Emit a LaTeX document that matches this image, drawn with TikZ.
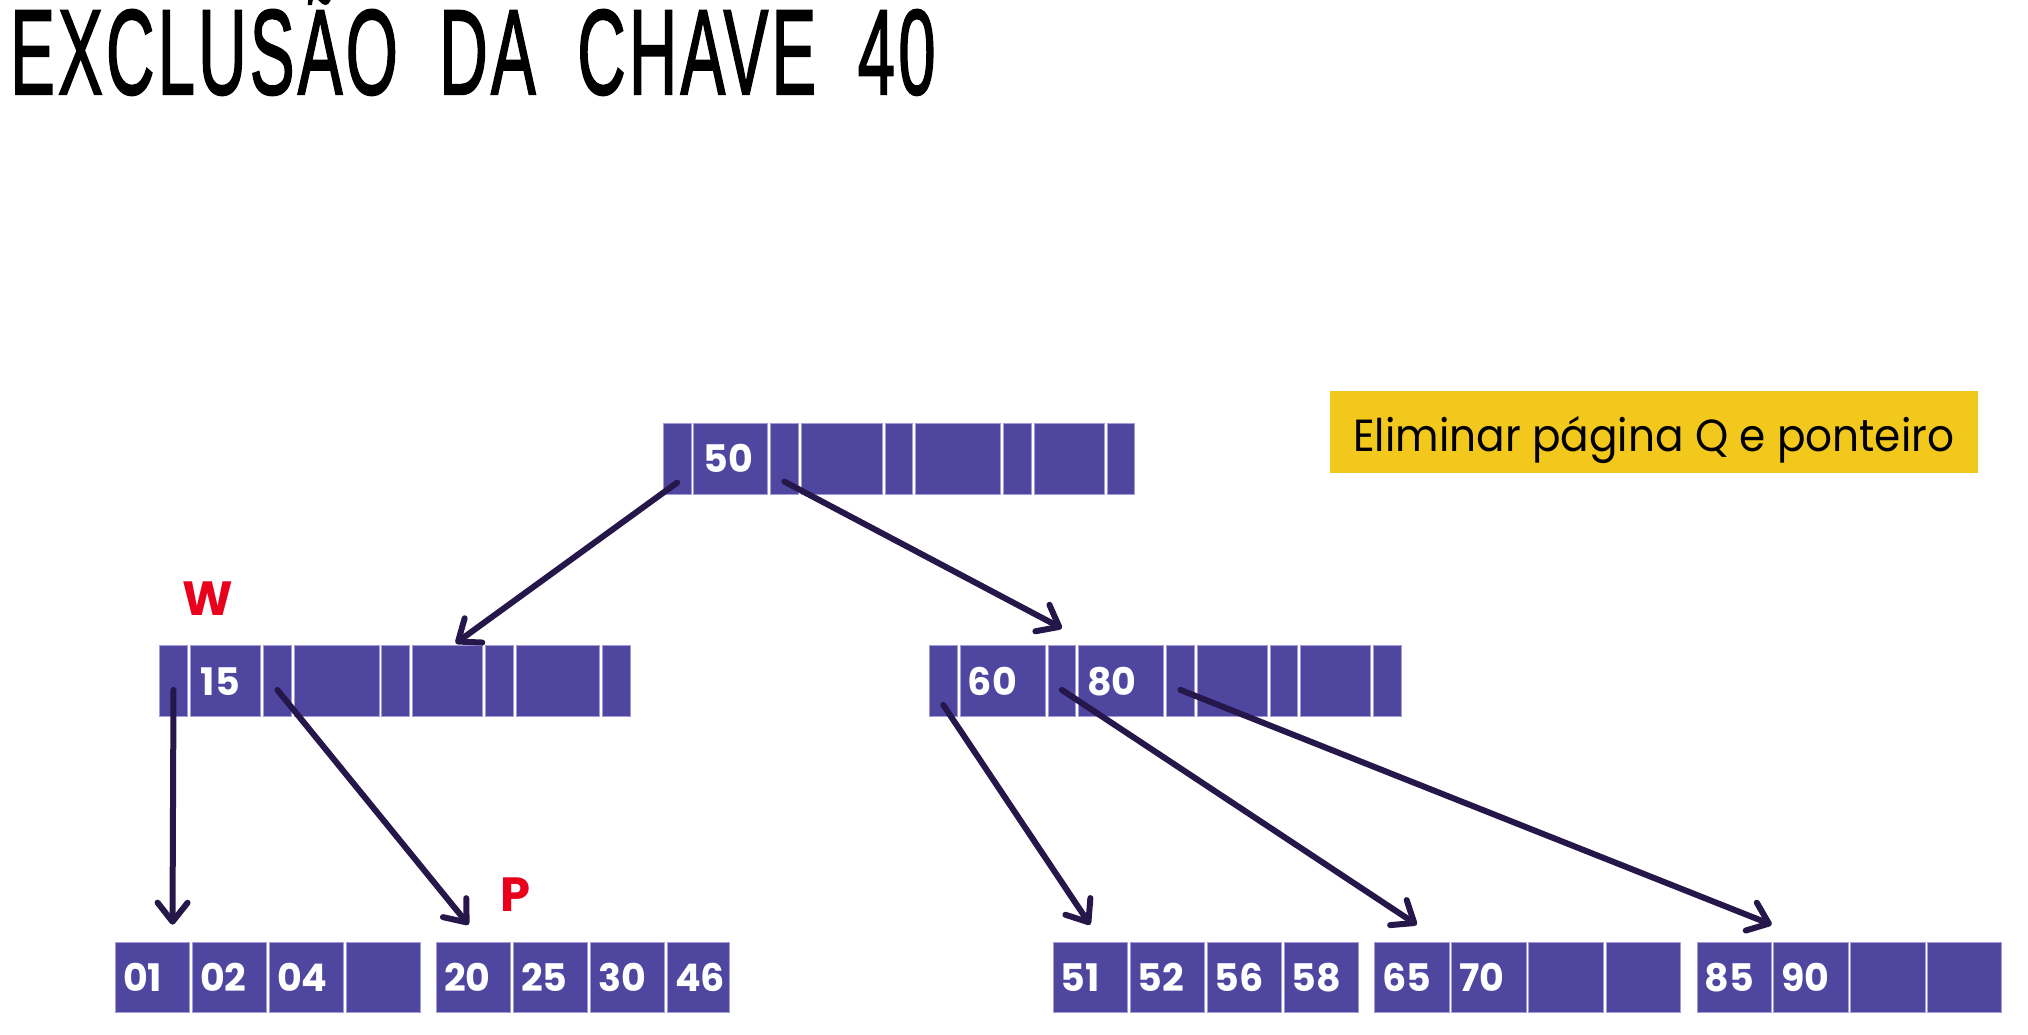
\documentclass[tikz,border=0pt]{standalone}
\usepackage{fontspec}
\usepackage{graphicx}
\setmainfont{Poppins}
\newfontfamily\titlefont[LetterSpace=5, WordSpace=1.9, FakeBold=2]{Liberation Sans}
\usetikzlibrary{arrows.meta,calc}

\definecolor{cellfill}{RGB}{79,70,160}
\definecolor{cellline}{RGB}{165,156,218}
\definecolor{linkcol}{RGB}{37,23,74}
\definecolor{markred}{RGB}{232,0,28}
\definecolor{notefill}{RGB}{242,200,28}

\begin{document}
\begin{tikzpicture}[x=1pt,y=-1pt,
  cell/.style={fill=cellfill, draw=cellline, line width=1pt, anchor=north west,
    inner sep=0pt, minimum height=70.6pt},
  key/.style={anchor=west, inner sep=0pt, text=white,
    font=\fontsize{38}{38}\selectfont\bfseries},
  link/.style={draw=linkcol, line width=6pt, line cap=round,
    -{Straight Barb[length=19pt,width=30pt,round]}},
  redmark/.style={inner sep=0pt, text=markred,
    font=\fontsize{48}{48}\selectfont\bfseries},
]
\clip (0,0) rectangle (2028,1034);
\fill[white] (0,0) rectangle (2028,1034);

% title
\node[anchor=base west, inner sep=0pt] (title) at (10,94)
  {\resizebox{925pt}{83pt}{\titlefont\raisebox{0pt}[\fontcharht\font`E][0pt]{EXCLUSÃO DA CHAVE 40}}};

% note box
\node[fill=notefill, anchor=north west, inner sep=0pt, minimum width=648pt,
  minimum height=82pt] (note) at (1329.6,390.7) {};
\node[inner sep=0pt, font=\fontsize{45}{45}\selectfont, anchor=base]
  (notetext) at ([yshift=-20pt]note.center)
  {\resizebox{601pt}{\height}{Eliminar página Q e ponteiro}};

% root page
\foreach \n/\x/\w in {r1/662.7/28, r2/693.3/74, r3/770/27.7, r4/800.7/81,
    r5/884.7/27.6, r6/915/85, r7/1003/27.7, r8/1033.7/70, r9/1106.7/27.6}
  \node[cell, minimum width=\w pt] (\n) at (\x,423) {};

% second level, left page
\foreach \n/\x/\w in {w1/159/28, w2/189.7/70.3, w3/263/27.7, w4/293.7/85,
    w5/381.3/27.7, w6/412/70.3, w7/485/27.7, w8/515.7/83.6, w9/602.3/27.4}
  \node[cell, minimum width=\w pt] (\n) at (\x,645.3) {};

% second level, right page
\foreach \n/\x/\w in {m1/928.7/28, m2/959.7/85, m3/1047.7/27.3, m4/1078/85,
    m5/1166/27.7, m6/1196.7/70, m7/1269.7/27.3, m8/1300/70.3, m9/1373.3/27.4}
  \node[cell, minimum width=\w pt] (\n) at (\x,645.3) {};

% leaf pages
\foreach \n/\x/\w in {a1/115/74, a2/192/74, a3/269/74, a4/346/74,
    b1/436/74, b2/513/74, b3/590/74, b4/667/62,
    c1/1052.6/74, c2/1129.7/74.5, c3/1206.7/74, c4/1283.7/74,
    d1/1374/74.5, d2/1451/74.6, d3/1528/74.6, d4/1605.7/74,
    e1/1696.7/74, e2/1773/74.6, e3/1850/74.6, e4/1927/74}
  \node[cell, minimum width=\w pt] (\n) at (\x,941.7) {};

% keys
\node[key] (k50) at ([xshift=10pt]r2.west) {50};
\node[key] (k15) at ([xshift=11pt]w2.west) {15};
\node[key] (k60) at ([xshift=8pt]m2.west) {60};
\node[key] (k80) at ([xshift=9pt]m4.west) {80};
\foreach \c/\t in {a1/01, a2/02, a3/04, b1/20, b2/25, b3/30, b4/46,
    c1/51, c2/52, c3/56, c4/58, d1/65, d2/70, e1/85, e2/90}
  \node[key] (k\c) at ([xshift=8pt]\c.west) {\t};

% page markers
\node[redmark] (pw) at (208,599) {W};
\node[redmark] (pp) at (515,895) {P};

% pointers
\draw[link] ([yshift=12pt]r1.south) -- ([xshift=8pt,yshift=2pt]w6.north);
\draw[link] ([yshift=13pt]r3.south) -- ([yshift=17pt]m3.north);
\draw[link] ([yshift=27pt]w1.south) -- ([xshift=20pt,yshift=17pt]a1.north);
\draw[link] ([yshift=27pt]w3.south) -- ([xshift=-5pt,yshift=17pt]b1.north);
\draw[link] ([yshift=12pt]m1.south) -- ([yshift=17pt]c1.north);
\draw[link] ([yshift=27pt]m3.south) -- ([xshift=5pt,yshift=17pt]d1.north);
\draw[link] ([yshift=27pt]m5.south) -- ([yshift=17pt]e1.north east);
\end{tikzpicture}
\end{document}
